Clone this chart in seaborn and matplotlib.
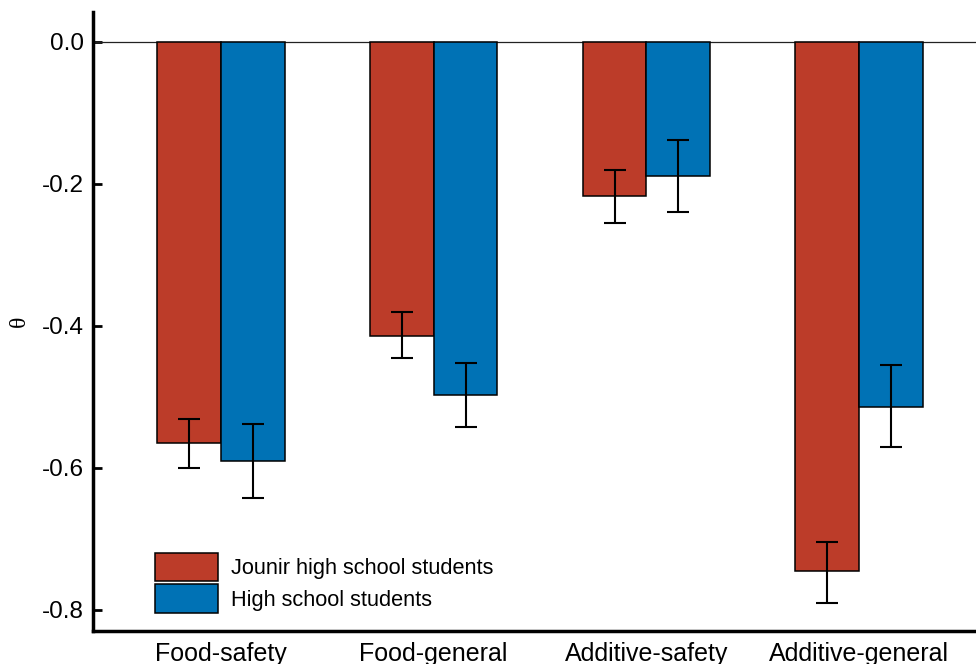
import matplotlib
matplotlib.use("Agg")
import matplotlib.pyplot as plt
import seaborn as sns
import pandas as pd
import numpy as np

categories = ["Food-safety", "Food-general", "Additive-safety", "Additive-general"]
groups = ["Jounir high school students", "High school students"]
junior_vals = [-0.565, -0.414, -0.217, -0.746]
senior_vals = [-0.590, -0.498, -0.189, -0.514]
junior_lo = [-0.601, -0.446, -0.255, -0.790]
junior_hi = [-0.531, -0.381, -0.180, -0.705]
senior_lo = [-0.643, -0.543, -0.240, -0.571]
senior_hi = [-0.538, -0.453, -0.139, -0.455]
yticks = [0.0, -0.2, -0.4, -0.6, -0.8]
colors = ["#BC3C29", "#0072B5"]

df = pd.DataFrame({
    "category": categories * 2,
    "group": [groups[0]] * 4 + [groups[1]] * 4,
    "theta": junior_vals + senior_vals,
})

sns.set_style("white")
plt.rcParams["font.family"] = ["Liberation Sans", "DejaVu Sans"]
plt.rcParams["text.color"] = "black"
plt.rcParams["xtick.color"] = "black"
plt.rcParams["ytick.color"] = "black"
plt.rcParams["axes.labelcolor"] = "black"

fig = plt.figure(figsize=(9.76, 6.64), dpi=100)
ax = fig.add_axes([93 / 976, 1 - 631 / 664, (987 - 93) / 976, (631 - 12) / 664])

sns.barplot(data=df, x="category", y="theta", hue="group", order=categories,
            hue_order=groups, palette=colors, width=0.6, errorbar=None,
            edgecolor="black", linewidth=1.1, saturation=1, ax=ax, zorder=2)

los = [junior_lo, senior_lo]
his = [junior_hi, senior_hi]
vals = [junior_vals, senior_vals]
bar_conts = list(ax.containers)
for i, cont in enumerate(bar_conts):
    for j, p in enumerate(cont.patches):
        xc = p.get_x() + p.get_width() / 2
        val = vals[i][j]
        ax.errorbar(xc, val, yerr=[[val - los[i][j]], [his[i][j] - val]],
                    fmt="none", ecolor="black", elinewidth=1.5, capsize=8,
                    capthick=1.5, zorder=3)

ax.axhline(0, color="#222222", lw=0.9, zorder=1)
ax.set_xlim(-0.6, 3.6)
ax.set_ylim(-0.83, 0.042)
ax.set_yticks(yticks)
ax.set_yticklabels([f"{t:.1f}" for t in yticks])
ax.tick_params(axis="y", left=True, direction="in", length=6.5, width=2, pad=6.5,
               labelsize=17.5, colors="black")
ax.tick_params(axis="x", length=0, pad=8, labelsize=18, colors="black")
for s in ["top", "right"]:
    ax.spines[s].set_visible(False)
for s in ["left", "bottom"]:
    ax.spines[s].set_linewidth(2.5)
    ax.spines[s].set_color("black")
ax.set_xlabel("")
ax.set_ylabel("θ", family=["Liberation Serif", "DejaVu Serif"], fontsize=17,
              labelpad=9, color="black")

handles, labels = ax.get_legend_handles_labels()
for h in handles:
    h.set_edgecolor("black")
    h.set_linewidth(1.1)
leg = ax.legend(handles, labels, loc="upper left", bbox_to_anchor=(155 / 976, 1 - 553 / 664),
                bbox_transform=fig.transFigure, frameon=False, fontsize=15.7,
                handlelength=2.9, handleheight=1.63, labelspacing=0.13, handletextpad=0.6,
                borderpad=0, borderaxespad=0)
for t in leg.get_texts():
    t.set_color("black")

fig.savefig("out.png", dpi=100)
